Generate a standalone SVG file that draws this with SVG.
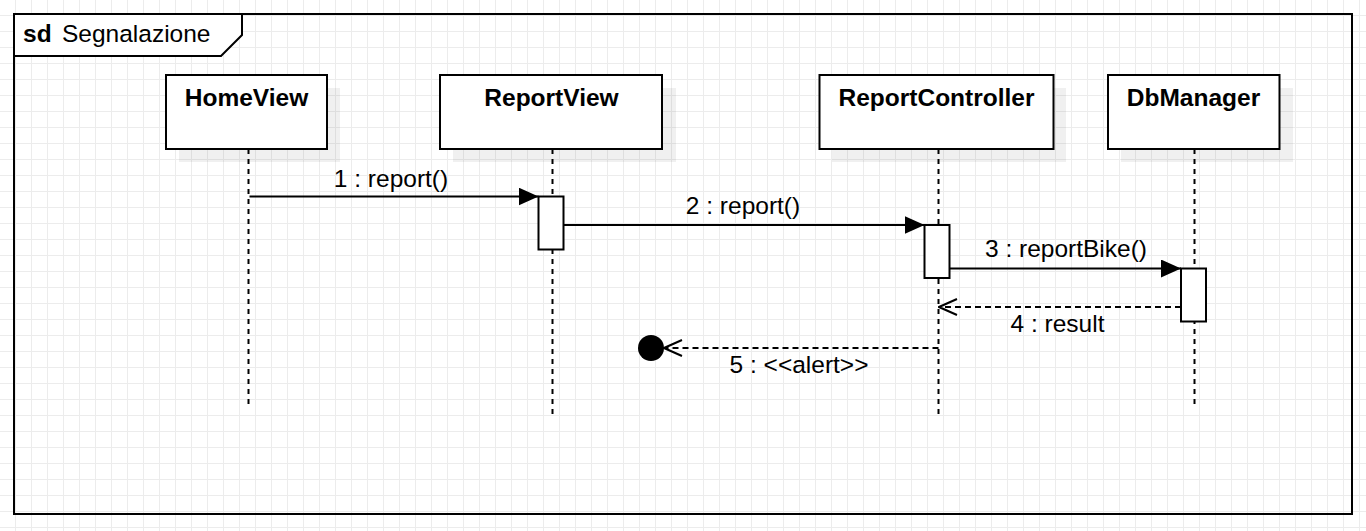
<svg xmlns="http://www.w3.org/2000/svg" width="1366" height="531" viewBox="0 0 1366 531">
<style>
.t{font-family:"Liberation Sans",Arial,Helvetica,sans-serif;font-size:24.5px;fill:#000}
.b{font-weight:bold}
.box{fill:#fff;stroke:#000;stroke-width:2}
.sh{fill:#000;fill-opacity:0.06}
.life{stroke:#000;stroke-width:2;stroke-dasharray:5 5;fill:none}
.msg{stroke:#000;stroke-width:2;fill:none}
.ret{stroke:#000;stroke-width:2;fill:none;stroke-dasharray:6 4}
.act{fill:#fff;stroke:#000;stroke-width:2}
</style>
<defs>
<pattern id="grid" patternUnits="userSpaceOnUse" x="0" y="0" width="16" height="16">
<path d="M15.5 0V16M0 15.5H16" stroke="#ececec" stroke-width="1" fill="none"/>
</pattern>
<marker id="fill" viewBox="0 0 20 18" refX="20" refY="9" markerWidth="20" markerHeight="18" markerUnits="userSpaceOnUse" orient="auto">
<path d="M0 0L20 9L0 18Z" fill="#000"/>
</marker>
<marker id="open" viewBox="0 0 20 18" refX="19" refY="9" markerWidth="20" markerHeight="18" markerUnits="userSpaceOnUse" orient="auto">
<path d="M1 1L19 9L1 17" fill="none" stroke="#000" stroke-width="2"/>
</marker>
</defs>
<rect width="1366" height="531" fill="#fff"/>
<rect width="1366" height="531" fill="url(#grid)"/>

<g id="frame">
<rect x="14" y="14" width="1338" height="500" fill="none" stroke="#000" stroke-width="2"/>
<path d="M14 14H242V35L221 56H14Z" fill="#fff" stroke="#000" stroke-width="2"/>
<text class="t b" x="23" y="42">sd</text>
<text class="t" x="62" y="42">Segnalazione</text>
</g>

<g id="HomeView">
<rect class="sh" x="179" y="88" width="161" height="74"/>
<rect class="box" x="166" y="75" width="161" height="74"/>
<text class="t b" x="246.5" y="106" text-anchor="middle">HomeView</text>
<line class="life" x1="248.5" y1="149" x2="248.5" y2="408"/>
</g>

<g id="ReportView">
<rect class="sh" x="453" y="88" width="223" height="74"/>
<rect class="box" x="440" y="75" width="222" height="74"/>
<text class="t b" x="551.5" y="106" text-anchor="middle">ReportView</text>
<line class="life" x1="552.5" y1="149" x2="552.5" y2="418"/>
<rect class="act" x="538.5" y="196.5" width="25" height="53"/>
</g>

<g id="ReportController">
<rect class="sh" x="832" y="88" width="234" height="74"/>
<rect class="box" x="819.5" y="75" width="234" height="74"/>
<text class="t b" x="936.5" y="106" text-anchor="middle">ReportController</text>
<line class="life" x1="938.5" y1="149" x2="938.5" y2="418"/>
<rect class="act" x="924.5" y="225" width="25" height="53"/>
</g>

<g id="DbManager">
<rect class="sh" x="1121" y="88" width="172" height="74"/>
<rect class="box" x="1108" y="75" width="171.5" height="74"/>
<text class="t b" x="1193.5" y="106" text-anchor="middle">DbManager</text>
<line class="life" x1="1194.5" y1="149" x2="1194.5" y2="408"/>
<rect class="act" x="1181" y="268.5" width="25" height="53"/>
</g>

<g id="endpoint">
<circle cx="651" cy="348" r="13" fill="#000"/>
</g>

<g id="connectors">
<line class="msg" x1="249.5" y1="196.5" x2="538.5" y2="196.5" marker-end="url(#fill)"/>
<text class="t" x="391" y="187" text-anchor="middle">1 : report()</text>
<line class="msg" x1="563.5" y1="225" x2="924.5" y2="225" marker-end="url(#fill)"/>
<text class="t" x="743" y="214" text-anchor="middle">2 : report()</text>
<line class="msg" x1="949.5" y1="268.5" x2="1181" y2="268.5" marker-end="url(#fill)"/>
<text class="t" x="1066" y="257" text-anchor="middle">3 : reportBike()</text>
<line class="ret" x1="1181" y1="307" x2="939" y2="307" marker-end="url(#open)"/>
<text class="t" x="1057.5" y="332" text-anchor="middle">4 : result</text>
<line class="ret" x1="938.5" y1="348" x2="664" y2="348" marker-end="url(#open)"/>
<text class="t" x="799" y="373" text-anchor="middle">5 : &lt;&lt;alert&gt;&gt;</text>
</g>
</svg>
